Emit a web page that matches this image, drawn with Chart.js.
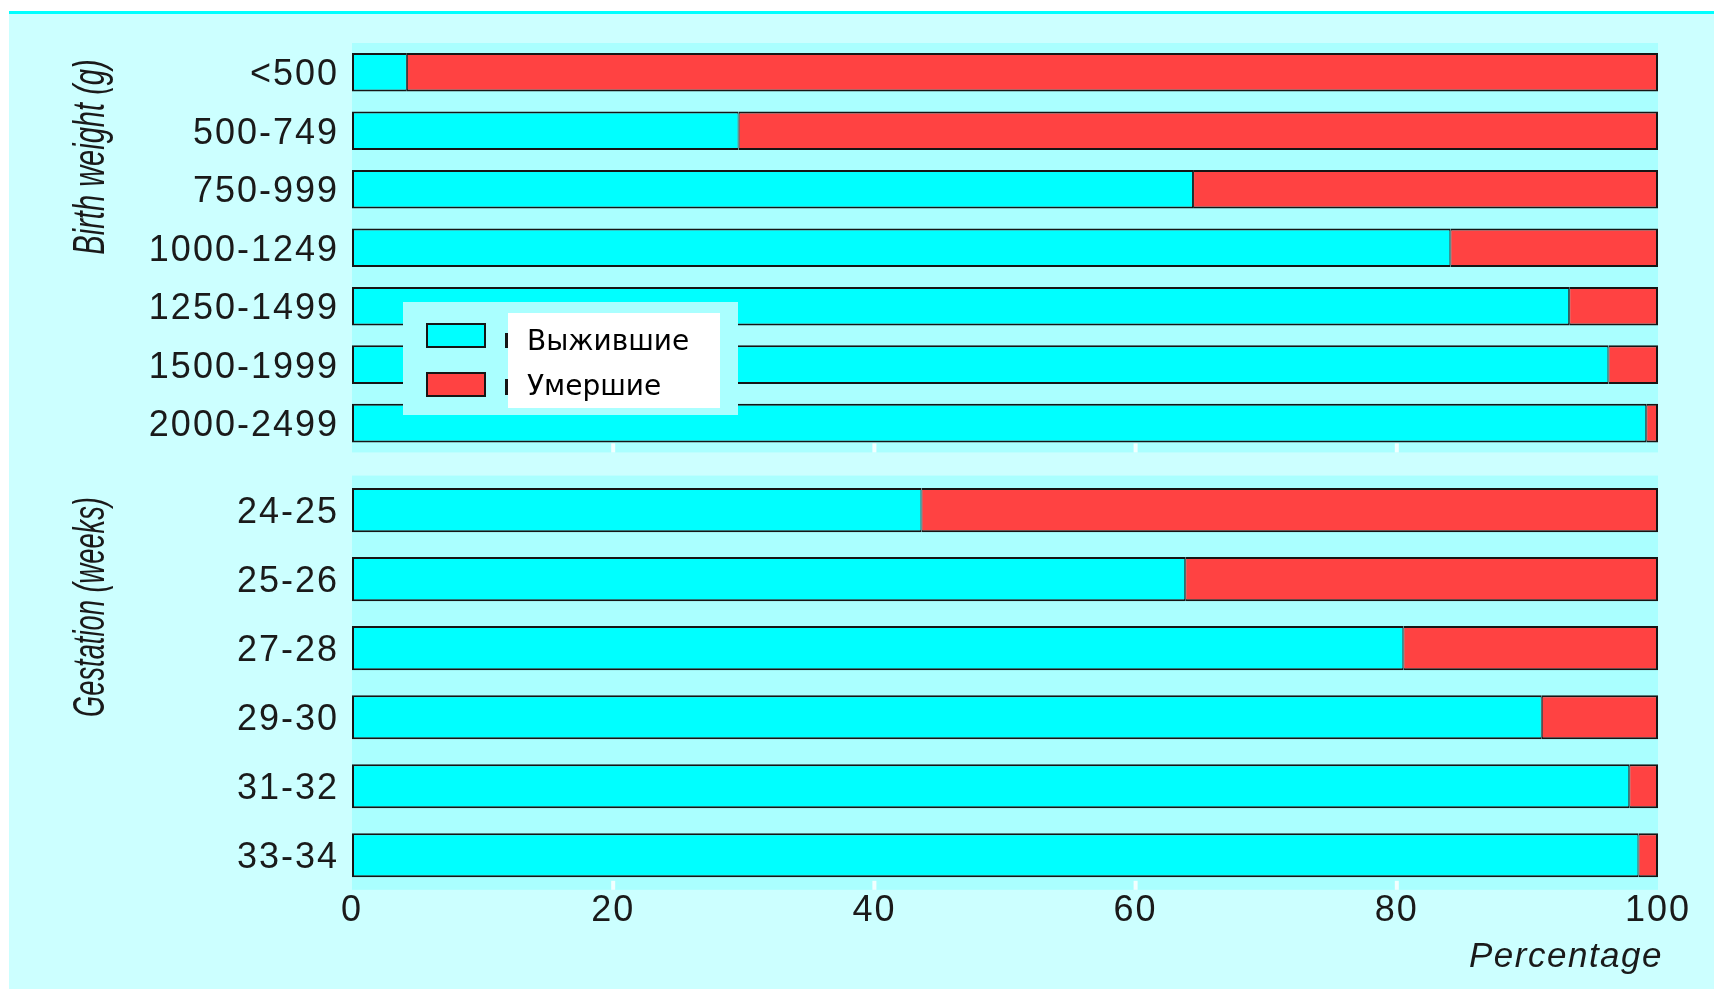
<!DOCTYPE html>
<html lang="ru">
<head>
<meta charset="UTF-8">
<title>Выжившие и умершие</title>
<script src="https://cdn.jsdelivr.net/npm/chart.js"></script>
<style>
  html, body { margin: 0; padding: 0; background: #fff; width: 1714px; height: 989px; overflow: hidden; }
  #bg {
    position: absolute; left: 9px; top: 11px; width: 1705px; height: 978px;
    background: #ccffff; border-top: 3px solid #00ffff; box-sizing: border-box;
  }
  canvas { position: absolute; left: 0; }
  #weight { top: 0; }
  #gest { top: 441px; }
</style>
</head>
<body>
<div id="bg"></div>
<canvas id="weight" width="1714" height="487"></canvas>
<canvas id="gest" width="1714" height="548"></canvas>
<script>
// values, percent
const weightLabels = ["<500", "500-749", "750-999", "1000-1249", "1250-1499", "1500-1999", "2000-2499"];
const weightSurvived = [4.2, 29.6, 64.4, 84.1, 93.2, 96.2, 99.1];
const weightDied = [95.8, 70.4, 35.6, 15.9, 6.8, 3.8, 0.9];

const gestLabels = ["24-25", "25-26", "27-28", "29-30", "31-32", "33-34"];
const gestSurvived = [43.6, 63.8, 80.5, 91.1, 97.8, 98.5];
const gestDied = [56.4, 36.2, 19.5, 8.9, 2.2, 1.5];

const xTicks = [0, 20, 40, 60, 80, 100];
const seriesNames = ["Выжившие", "Умершие"];

const CYAN = "#00ffff";
const RED = "#ff4242";
const EDGE = "#151515";
const PANEL = "#aaffff";
const TEXT = "#1a1a1a";
const tickFont = { family: "'Liberation Sans', Arial, sans-serif", size: 36 };

// the original tick labels are loosely tracked
const spacing = {
  id: "spacing",
  beforeUpdate(chart) { chart.ctx.letterSpacing = "2px"; },
  beforeDraw(chart) { chart.ctx.letterSpacing = "2px"; }
};

const panel = {
  id: "panel",
  beforeDatasetsDraw(chart) {
    const { ctx, chartArea: a } = chart;
    ctx.save();
    ctx.fillStyle = PANEL;
    ctx.fillRect(a.left, a.top, a.right - a.left, a.bottom - a.top);
    // small white tick stubs at the panel bottom
    ctx.fillStyle = "rgba(255,255,255,0.85)";
    xTicks.slice(1, -1).forEach(v => {
      const x = chart.scales.x.getPixelForValue(v);
      ctx.fillRect(x - 2, a.bottom - 9, 4, 9);
    });
    ctx.restore();
  }
};

function rotatedTitle(ctx, text, cx, cy, squeeze) {
  ctx.save();
  ctx.letterSpacing = "0px";
  ctx.translate(cx, cy);
  ctx.rotate(-Math.PI / 2);
  ctx.scale(squeeze, 1);
  ctx.font = "italic 44px 'Liberation Sans', Arial, sans-serif";
  ctx.fillStyle = TEXT;
  ctx.textAlign = "center";
  ctx.textBaseline = "middle";
  ctx.fillText(text, 0, 0);
  ctx.restore();
}

const weightDecor = {
  id: "weightDecor",
  afterDraw(chart) {
    const ctx = chart.ctx;
    rotatedTitle(ctx, "Birth weight (g)", 92, 157, 0.66);

    // legend box
    ctx.save();
    ctx.letterSpacing = "0px";
    ctx.fillStyle = PANEL;
    ctx.fillRect(403, 302, 335, 113);
    [[323, CYAN], [372, RED]].forEach(([y, c]) => {
      ctx.fillStyle = EDGE;
      ctx.fillRect(426, y, 60, 25);
      ctx.fillStyle = c;
      ctx.fillRect(428, y + 2, 56, 21);
    });
    ctx.fillStyle = EDGE;
    ctx.fillRect(505, 333, 3, 15);
    ctx.fillRect(505, 379, 3, 16);
    ctx.fillStyle = "#ffffff";
    ctx.fillRect(508, 313, 212, 95);
    ctx.fillStyle = "#000";
    ctx.font = "28px 'DejaVu Sans', Verdana, sans-serif";
    ctx.textAlign = "left";
    ctx.textBaseline = "alphabetic";
    ctx.fillText(seriesNames[0], 527, 350);
    ctx.fillText(seriesNames[1], 527, 395);
    ctx.restore();
  }
};

const gestDecor = {
  id: "gestDecor",
  afterDraw(chart) {
    const ctx = chart.ctx;
    rotatedTitle(ctx, "Gestation (weeks)", 92, 166, 0.62);
    ctx.save();
    ctx.letterSpacing = "1.5px";
    ctx.font = "italic 35px 'Liberation Sans', Arial, sans-serif";
    ctx.fillStyle = TEXT;
    ctx.textAlign = "right";
    ctx.textBaseline = "alphabetic";
    ctx.fillText("Percentage", 1663, 526);
    ctx.restore();
  }
};

function makeChart(id, labels, survived, died, padding, barPct, showX, decor) {
  return new Chart(document.getElementById(id), {
    type: "bar",
    data: {
      labels,
      datasets: [
        {
          label: seriesNames[0], data: survived, backgroundColor: CYAN, borderColor: EDGE,
          borderWidth: { left: 2, top: 2, bottom: 2, right: 1 }, borderSkipped: false
        },
        {
          label: seriesNames[1], data: died, backgroundColor: RED, borderColor: EDGE,
          borderWidth: { left: 1, top: 2, bottom: 2, right: 2 }, borderSkipped: false
        }
      ]
    },
    options: {
      indexAxis: "y",
      responsive: false,
      animation: false,
      devicePixelRatio: 1,
      layout: { padding },
      datasets: { bar: { barPercentage: barPct, categoryPercentage: 1 } },
      plugins: { legend: { display: false }, tooltip: { enabled: false } },
      scales: {
        x: {
          stacked: true, min: 0, max: 100, display: showX,
          afterBuildTicks: s => { s.ticks = xTicks.map(v => ({ value: v })); },
          grid: { display: false, drawTicks: false },
          border: { display: false },
          ticks: { font: tickFont, color: TEXT, padding: 0, maxRotation: 0 }
        },
        y: {
          stacked: true,
          grid: { display: false, drawTicks: false },
          border: { display: false },
          ticks: { font: tickFont, color: TEXT, padding: 13, labelOffset: 3 },
          afterFit: s => { s.width = 352; }
        }
      }
    },
    plugins: [spacing, panel, decor]
  });
}

makeChart("weight", weightLabels, weightSurvived, weightDied,
  { top: 43, right: 56, bottom: 0, left: 0 }, 0.66, false, weightDecor);
makeChart("gest", gestLabels, gestSurvived, gestDied,
  { top: 0, right: 56, bottom: 56, left: 0 }, 0.64, true, gestDecor);
</script>
</body>
</html>
